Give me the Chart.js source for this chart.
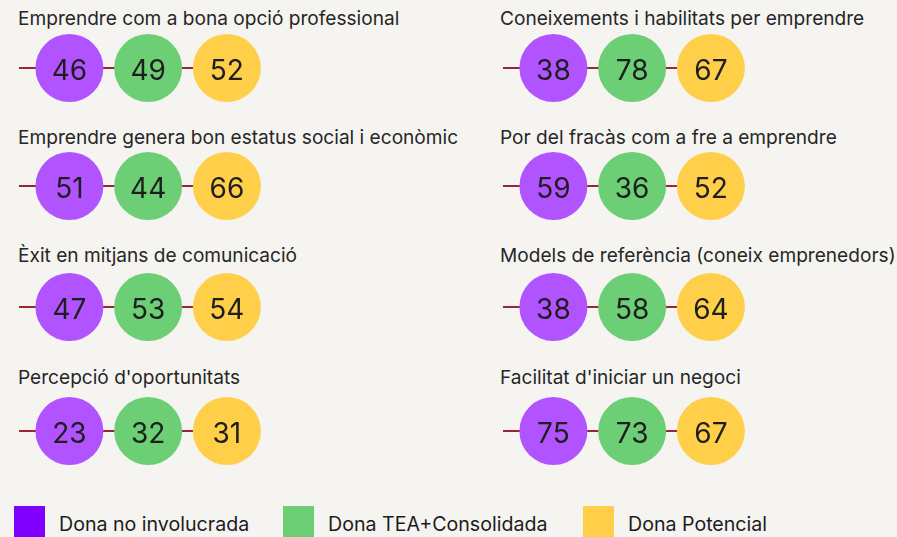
<!DOCTYPE html>
<html>
<head>
<meta charset="utf-8">
<script src="https://cdn.jsdelivr.net/npm/chart.js@4.4.1/dist/chart.umd.min.js"></script>
<style>
  body { margin: 0; background: #f5f4f1; font-family: Inter, "Noto Sans", sans-serif; color: #262626; }
  #wrap { position: relative; width: 897px; height: 537px; overflow: hidden; }
  .title { position: absolute; font-size: 19.1px; line-height: 19px; white-space: nowrap; }
  .panel { position: absolute; }
  .swatch { position: absolute; width: 31px; height: 40px; }
  .legend-text { position: absolute; font-size: 19.6px; line-height: 19px; white-space: nowrap; color: #1c1c1c; }
</style>
</head>
<body>
<div id="wrap"></div>
<script>
// panels: left column top to bottom, then right column
const titles = [
  'Emprendre com a bona opció professional',
  'Emprendre genera bon estatus social i econòmic',
  'Èxit en mitjans de comunicació',
  "Percepció d'oportunitats",
  'Coneixements i habilitats per emprendre',
  'Por del fracàs com a fre a emprendre',
  'Models de referència (coneix emprenedors)',
  "Facilitat d'iniciar un negoci"
]
const seriesNames = ['Dona no involucrada', 'Dona TEA+Consolidada', 'Dona Potencial']
const noInvolucrada = [46, 51, 47, 23, 38, 59, 38, 75]
const teaConsolidada = [49, 44, 53, 32, 78, 36, 58, 73]
const potencial = [52, 66, 54, 31, 67, 52, 64, 67]

const seriesValues = [noInvolucrada, teaConsolidada, potencial]
const pointColors = ['#b153ff', '#6ccf76', '#ffcf4a']
const legendColors = ['#8000ff', '#6ccf76', '#ffcf4a']

// layout
const colLeft = [19, 503]
const titleLeft = [18, 500]
const rowCenter = [68, 186, 307, 431]
const titleBaseline = [25, 144, 262, 384]
const panelW = 252, panelH = 80

const wrap = document.getElementById('wrap')

const connector = {
  id: 'connector',
  beforeDatasetsDraw(chart) {
    const last = chart.getDatasetMeta(chart.data.datasets.length - 1).data[0]
    const ctx = chart.ctx
    ctx.save()
    ctx.strokeStyle = '#9a2535'
    ctx.lineWidth = 2
    ctx.beginPath()
    ctx.moveTo(chart.chartArea.left, last.y)
    ctx.lineTo(last.x, last.y)
    ctx.stroke()
    ctx.restore()
  }
}

const valueLabels = {
  id: 'valueLabels',
  afterDatasetsDraw(chart) {
    const ctx = chart.ctx
    ctx.save()
    ctx.font = '28px Inter, "Noto Sans", sans-serif'
    ctx.fillStyle = '#1e1e1e'
    ctx.textAlign = 'center'
    ctx.textBaseline = 'alphabetic'
    chart.data.datasets.forEach((ds, i) => {
      const pt = chart.getDatasetMeta(i).data[0]
      ctx.fillText(ds.data[0].v, pt.x, pt.y + 12)
    })
    ctx.restore()
  }
}

titles.forEach((title, p) => {
  const col = Math.floor(p / 4), row = p % 4

  const t = document.createElement('div')
  t.className = 'title'
  t.textContent = title
  t.style.left = titleLeft[col] + 'px'
  t.style.top = (titleBaseline[row] - 16.5) + 'px'
  wrap.appendChild(t)

  const canvas = document.createElement('canvas')
  canvas.className = 'panel'
  canvas.width = panelW
  canvas.height = panelH
  canvas.style.left = colLeft[col] + 'px'
  canvas.style.top = (rowCenter[row] - panelH / 2) + 'px'
  wrap.appendChild(canvas)

  new Chart(canvas, {
    type: 'scatter',
    data: {
      datasets: seriesNames.map((name, i) => ({
        label: name,
        data: [{ x: i, y: 0, v: seriesValues[i][p] }],
        backgroundColor: pointColors[i],
        borderWidth: 0,
        pointRadius: 34,
        pointHoverRadius: 34,
        clip: false
      }))
    },
    options: {
      responsive: false,
      animation: false,
      events: [],
      layout: { padding: 0, autoPadding: false },
      plugins: { legend: { display: false }, tooltip: { enabled: false } },
      scales: {
        x: { type: 'linear', min: -0.64, max: 2.56, display: false },
        y: { min: -1, max: 1, display: false }
      }
    },
    plugins: [connector, valueLabels]
  })
})

// legend
const legendLeft = [14, 283, 583]
seriesNames.forEach((name, i) => {
  const sw = document.createElement('div')
  sw.className = 'swatch'
  sw.style.left = legendLeft[i] + 'px'
  sw.style.top = '506px'
  sw.style.background = legendColors[i]
  wrap.appendChild(sw)

  const lt = document.createElement('div')
  lt.className = 'legend-text'
  lt.textContent = name
  lt.style.left = (legendLeft[i] + 45) + 'px'
  lt.style.top = '515px'
  wrap.appendChild(lt)
})
</script>
</body>
</html>
